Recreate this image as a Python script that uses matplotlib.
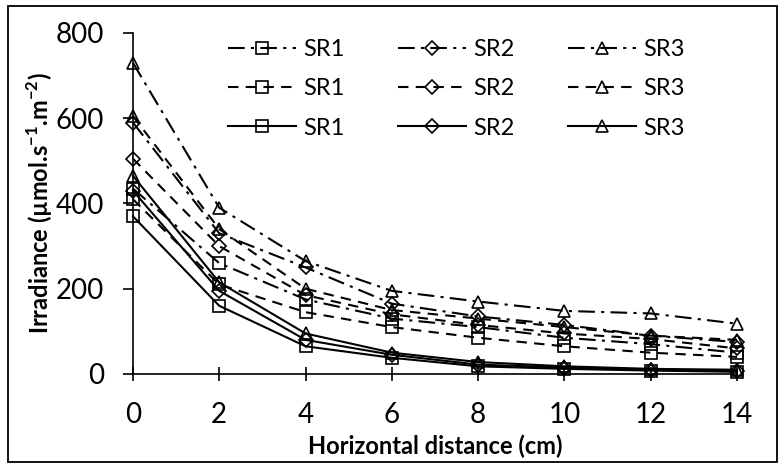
import matplotlib.pyplot as plt
from matplotlib.patches import Rectangle

plt.rcParams['font.family'] = ['Lato', 'DejaVu Sans']
plt.rcParams['mathtext.fontset'] = 'custom'
plt.rcParams['mathtext.rm'] = 'Lato'
plt.rcParams['mathtext.bf'] = 'Lato:bold'

distance = [0, 2, 4, 6, 8, 10, 12, 14]

# dash-dot group
dd_sr1 = [435, 260, 175, 130, 110, 85, 70, 50]
dd_sr2 = [590, 330, 250, 165, 135, 115, 90, 75]
dd_sr3 = [730, 390, 265, 195, 170, 148, 142, 118]
# dashed group
da_sr1 = [410, 210, 145, 110, 85, 65, 50, 40]
da_sr2 = [505, 300, 185, 140, 115, 95, 82, 60]
da_sr3 = [605, 340, 200, 150, 130, 110, 90, 80]
# solid group
so_sr1 = [370, 160, 65, 38, 18, 12, 8, 5]
so_sr2 = [430, 195, 80, 45, 22, 15, 10, 7]
so_sr3 = [465, 215, 95, 50, 28, 18, 12, 10]

names = ['SR1', 'SR2', 'SR3']
markers = ['s', 'D', '^']
msizes = [9, 7, 9]

fig = plt.figure(figsize=(7.82, 4.68), dpi=100)
ax = fig.add_axes([0.170, 0.2009, 0.7725, 0.7286])

styles = [(0, (8, 3, 1.5, 3)), (0, (5, 3.5)), '-']
groups = [[dd_sr1, dd_sr2, dd_sr3], [da_sr1, da_sr2, da_sr3], [so_sr1, so_sr2, so_sr3]]

handles = {}
for gi, (ls, grp) in enumerate(zip(styles, groups)):
    for si, vals in enumerate(grp):
        h, = ax.plot(distance, vals, linestyle=ls, color='black', lw=1.5,
                     marker=markers[si], ms=msizes[si], mfc='none', mec='black',
                     mew=1.2, label=names[si], clip_on=False)
        handles[(gi, si)] = h

order = [handles[(g, s)] for s in range(3) for g in range(3)]
ax.legend(handles=order, labels=[h.get_label() for h in order], ncol=3,
          frameon=False, loc='upper left', bbox_to_anchor=(0.122, 1.045),
          fontsize=17, handlelength=2.9, columnspacing=2.25, labelspacing=0.78,
          handletextpad=0.3)

ax.set_xlim(0, 14)
ax.set_ylim(0, 800)
ax.set_xticks(distance)
ax.set_yticks([0, 200, 400, 600, 800])
for s in ['top', 'right']:
    ax.spines[s].set_visible(False)
for s in ['left', 'bottom']:
    ax.spines[s].set_linewidth(1.2)
ax.tick_params(axis='x', direction='inout', length=10, width=1.2, labelsize=20, pad=15)
ax.tick_params(axis='y', direction='out', length=7, width=1.2, labelsize=20, pad=14)

ax.set_xlabel('Horizontal distance (cm)', fontsize=17, fontweight='bold', labelpad=5)
ax.set_ylabel(r'Irradiance (µmol.s$^{\mathbf{-1}}$.m$^{\mathbf{-2}}$)', fontsize=17,
              fontweight='bold', labelpad=0)

fig.patches.append(Rectangle((8 / 782, 6 / 468), 769 / 782, 456 / 468,
                             transform=fig.transFigure, fill=False,
                             edgecolor='black', lw=1.3))

fig.savefig('out.png', dpi=100)
